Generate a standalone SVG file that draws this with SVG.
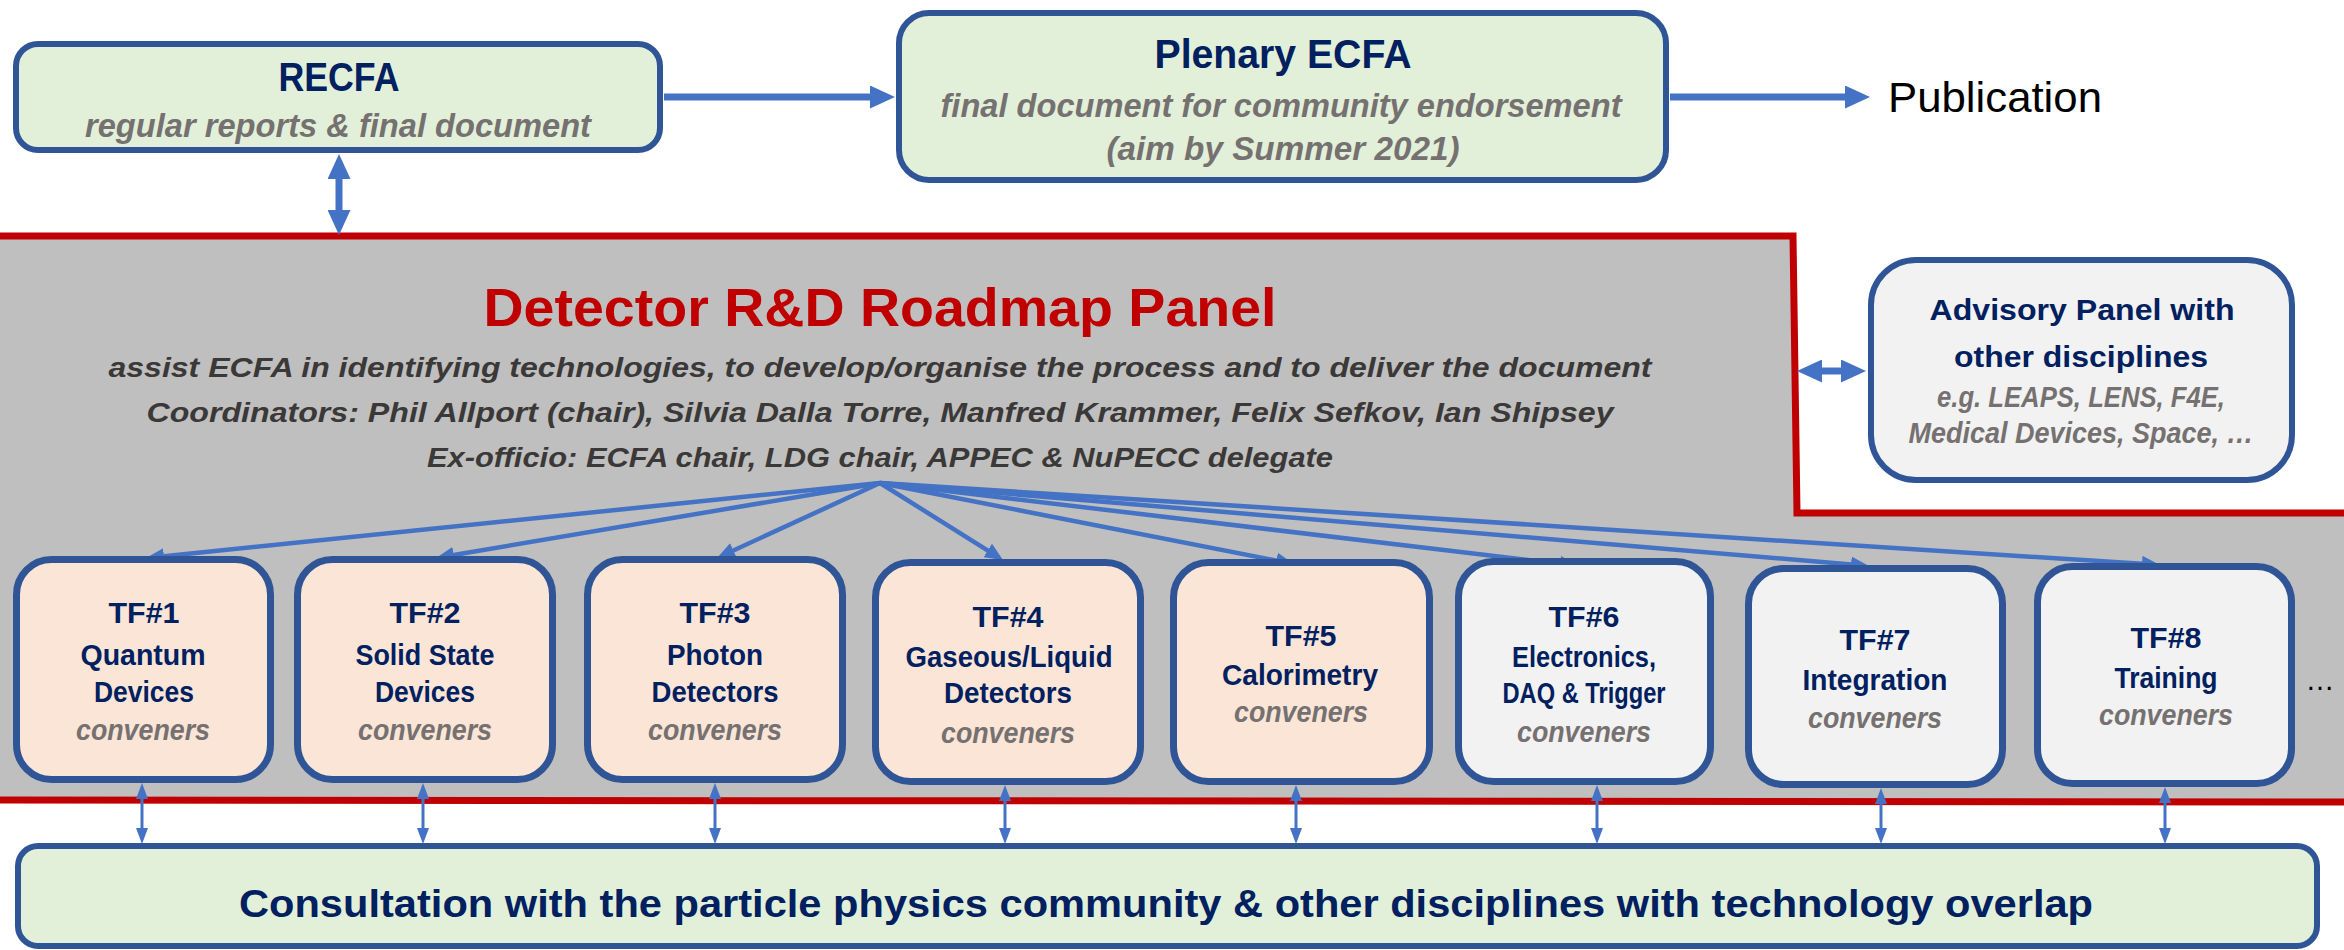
<svg xmlns="http://www.w3.org/2000/svg" width="2344" height="950" viewBox="0 0 2344 950">
<style>
text{font-family:"Liberation Sans",Arial,sans-serif;text-anchor:middle}
.t{font-weight:bold;fill:#002060}
.s{font-weight:bold;font-style:italic;fill:#767171}
.p{font-weight:bold;font-style:italic;fill:#3B3838;font-size:28px}
.box{stroke:#2F5597;stroke-width:6}
.tf{stroke:#2F5597;stroke-width:7}
.g{fill:#E2F0D9}
.o{fill:#FBE5D6}
.w{fill:#F2F2F2}
.big{stroke:#4472C4;stroke-width:7;fill:none}
.fan{stroke:#4472C4;stroke-width:4.5;fill:none}
.thin{stroke:#4472C4;stroke-width:3;fill:none}
.tfg text{font-size:29px}
</style>
<defs>
<marker id="hb" markerUnits="userSpaceOnUse" markerWidth="25" markerHeight="23" refX="10" refY="11.5" orient="auto-start-reverse" viewBox="0 0 25 23"><path d="M0,0 L25,11.5 L0,23 z" fill="#4472C4"/></marker>
<marker id="hm" markerUnits="userSpaceOnUse" markerWidth="18" markerHeight="16" refX="12" refY="8" orient="auto-start-reverse" viewBox="0 0 18 16"><path d="M0,0 L18,8 L0,16 z" fill="#4472C4"/></marker>
<marker id="hs" markerUnits="userSpaceOnUse" markerWidth="16" markerHeight="12" refX="11" refY="6" orient="auto-start-reverse" viewBox="0 0 16 12"><path d="M0,0 L16,6 L0,12 z" fill="#4472C4"/></marker>
</defs>
<rect width="2344" height="950" fill="#FFFFFF"/>
<g id="roadmap-panel">
<polygon points="-6,236 1793,236 1797,513 2352,513 2352,802 -6,800" fill="#BFBFBF" stroke="#C00000" stroke-width="7"/>
<text x="880" y="326" style="font-weight:bold;fill:#C00000;font-size:54px" textLength="793" lengthAdjust="spacingAndGlyphs">Detector R&amp;D Roadmap Panel</text>
<text class="p" x="880" y="377" textLength="1543" lengthAdjust="spacingAndGlyphs">assist ECFA in identifying technologies, to develop/organise the process and to deliver the document</text>
<text class="p" x="880" y="422" textLength="1467" lengthAdjust="spacingAndGlyphs">Coordinators: Phil Allport (chair), Silvia Dalla Torre, Manfred Krammer, Felix Sefkov, Ian Shipsey</text>
<text class="p" x="880" y="467" textLength="906" lengthAdjust="spacingAndGlyphs">Ex-officio: ECFA chair, LDG chair, APPEC &amp; NuPECC delegate</text>
</g>
<g id="recfa">
<rect class="box g" x="16" y="44" width="644" height="106" rx="22"/>
<text class="t" x="339" y="91" font-size="41" textLength="121" lengthAdjust="spacingAndGlyphs">RECFA</text>
<text class="s" x="338" y="137" font-size="34" textLength="506" lengthAdjust="spacingAndGlyphs">regular reports &amp; final document</text>
</g>
<g id="plenary">
<rect class="box g" x="899" y="13" width="767" height="167" rx="30"/>
<text class="t" x="1283" y="68" font-size="41" textLength="257" lengthAdjust="spacingAndGlyphs">Plenary ECFA</text>
<text class="s" x="1281" y="117" font-size="34" textLength="681" lengthAdjust="spacingAndGlyphs">final document for community endorsement</text>
<text class="s" x="1283" y="160" font-size="34" textLength="353" lengthAdjust="spacingAndGlyphs">(aim by Summer 2021)</text>
</g>
<g id="publication">
<text x="1888" y="112" font-size="42" fill="#000000" style="text-anchor:start" textLength="214" lengthAdjust="spacingAndGlyphs">Publication</text>
</g>
<g id="advisory">
<rect class="box w" x="1871" y="260" width="421" height="220" rx="45"/>
<text class="t" x="2082" y="320" font-size="29" textLength="305" lengthAdjust="spacingAndGlyphs">Advisory Panel with</text>
<text class="t" x="2081" y="367" font-size="29" textLength="254" lengthAdjust="spacingAndGlyphs">other disciplines</text>
<text class="s" x="2081" y="407" font-size="29" textLength="288" lengthAdjust="spacingAndGlyphs">e.g. LEAPS, LENS, F4E,</text>
<text class="s" x="2081" y="443" font-size="29" textLength="345" lengthAdjust="spacingAndGlyphs">Medical Devices, Space, …</text>
</g>
<g id="connectors">
<line class="big" x1="664" y1="97" x2="880" y2="97" marker-end="url(#hb)"/>
<line class="big" x1="1670" y1="97" x2="1855" y2="97" marker-end="url(#hb)"/>
<line class="big" x1="339" y1="169" x2="339" y2="220" marker-start="url(#hb)" marker-end="url(#hb)"/>
<line class="big" x1="1812" y1="371" x2="1851" y2="371" marker-start="url(#hb)" marker-end="url(#hb)"/>
<line class="fan" x1="880" y1="483" x2="152" y2="557.4" marker-end="url(#hm)"/>
<line class="fan" x1="880" y1="483" x2="441.9" y2="557" marker-end="url(#hm)"/>
<line class="fan" x1="880" y1="483" x2="722.5" y2="555.5" marker-end="url(#hm)"/>
<line class="fan" x1="880" y1="483" x2="997.9" y2="556.8" marker-end="url(#hm)"/>
<line class="fan" x1="880" y1="483" x2="1288.1" y2="562.9" marker-end="url(#hm)"/>
<line class="fan" x1="880" y1="483" x2="1572" y2="565.3" marker-end="url(#hm)"/>
<line class="fan" x1="880" y1="483" x2="1863" y2="565.5" marker-end="url(#hm)"/>
<line class="fan" x1="880" y1="483" x2="2154" y2="564.6" marker-end="url(#hm)"/>
<line class="thin" x1="142" y1="788" x2="142" y2="839" marker-start="url(#hs)" marker-end="url(#hs)"/>
<line class="thin" x1="423" y1="788" x2="423" y2="839" marker-start="url(#hs)" marker-end="url(#hs)"/>
<line class="thin" x1="715" y1="788" x2="715" y2="839" marker-start="url(#hs)" marker-end="url(#hs)"/>
<line class="thin" x1="1005" y1="790" x2="1005" y2="839" marker-start="url(#hs)" marker-end="url(#hs)"/>
<line class="thin" x1="1296" y1="790" x2="1296" y2="839" marker-start="url(#hs)" marker-end="url(#hs)"/>
<line class="thin" x1="1597" y1="790" x2="1597" y2="839" marker-start="url(#hs)" marker-end="url(#hs)"/>
<line class="thin" x1="1881" y1="793" x2="1881" y2="839" marker-start="url(#hs)" marker-end="url(#hs)"/>
<line class="thin" x1="2165" y1="792" x2="2165" y2="839" marker-start="url(#hs)" marker-end="url(#hs)"/>
</g>
<g id="tf1" class="tfg">
<rect class="tf o" x="16.5" y="559.5" width="254" height="220" rx="35"/>
<text class="t" x="144" y="623" textLength="71" lengthAdjust="spacingAndGlyphs">TF#1</text>
<text class="t" x="143" y="665" textLength="125" lengthAdjust="spacingAndGlyphs">Quantum</text>
<text class="t" x="144" y="702" textLength="100" lengthAdjust="spacingAndGlyphs">Devices</text>
<text class="s" x="143" y="740" textLength="134" lengthAdjust="spacingAndGlyphs">conveners</text>
</g>
<g id="tf2" class="tfg">
<rect class="tf o" x="297.5" y="559.5" width="255" height="220" rx="35"/>
<text class="t" x="425" y="623" textLength="71" lengthAdjust="spacingAndGlyphs">TF#2</text>
<text class="t" x="425" y="665" textLength="139" lengthAdjust="spacingAndGlyphs">Solid State</text>
<text class="t" x="425" y="702" textLength="100" lengthAdjust="spacingAndGlyphs">Devices</text>
<text class="s" x="425" y="740" textLength="134" lengthAdjust="spacingAndGlyphs">conveners</text>
</g>
<g id="tf3" class="tfg">
<rect class="tf o" x="587.5" y="559.5" width="255" height="220" rx="35"/>
<text class="t" x="715" y="623" textLength="71" lengthAdjust="spacingAndGlyphs">TF#3</text>
<text class="t" x="715" y="665" textLength="96" lengthAdjust="spacingAndGlyphs">Photon</text>
<text class="t" x="715" y="702" textLength="127" lengthAdjust="spacingAndGlyphs">Detectors</text>
<text class="s" x="715" y="740" textLength="134" lengthAdjust="spacingAndGlyphs">conveners</text>
</g>
<g id="tf4" class="tfg">
<rect class="tf o" x="875.5" y="562.5" width="265" height="219" rx="35"/>
<text class="t" x="1008" y="627" textLength="71" lengthAdjust="spacingAndGlyphs">TF#4</text>
<text class="t" x="1009" y="667" textLength="207" lengthAdjust="spacingAndGlyphs">Gaseous/Liquid</text>
<text class="t" x="1008" y="703" textLength="128" lengthAdjust="spacingAndGlyphs">Detectors</text>
<text class="s" x="1008" y="743" textLength="134" lengthAdjust="spacingAndGlyphs">conveners</text>
</g>
<g id="tf5" class="tfg">
<rect class="tf o" x="1173.5" y="562.5" width="256" height="219" rx="35"/>
<text class="t" x="1301" y="646" textLength="71" lengthAdjust="spacingAndGlyphs">TF#5</text>
<text class="t" x="1300" y="685" textLength="156" lengthAdjust="spacingAndGlyphs">Calorimetry</text>
<text class="s" x="1301" y="722" textLength="134" lengthAdjust="spacingAndGlyphs">conveners</text>
</g>
<g id="tf6" class="tfg">
<rect class="tf w" x="1458.5" y="561.5" width="252" height="220" rx="35"/>
<text class="t" x="1584" y="627" textLength="71" lengthAdjust="spacingAndGlyphs">TF#6</text>
<text class="t" x="1584" y="667" textLength="144" lengthAdjust="spacingAndGlyphs">Electronics,</text>
<text class="t" x="1584" y="703" textLength="163" lengthAdjust="spacingAndGlyphs">DAQ &amp; Trigger</text>
<text class="s" x="1584" y="742" textLength="134" lengthAdjust="spacingAndGlyphs">conveners</text>
</g>
<g id="tf7" class="tfg">
<rect class="tf w" x="1748.5" y="568.5" width="254" height="216" rx="35"/>
<text class="t" x="1875" y="650" textLength="71" lengthAdjust="spacingAndGlyphs">TF#7</text>
<text class="t" x="1875" y="690" textLength="145" lengthAdjust="spacingAndGlyphs">Integration</text>
<text class="s" x="1875" y="728" textLength="134" lengthAdjust="spacingAndGlyphs">conveners</text>
</g>
<g id="tf8" class="tfg">
<rect class="tf w" x="2037.5" y="566.5" width="254" height="217" rx="35"/>
<text class="t" x="2166" y="648" textLength="71" lengthAdjust="spacingAndGlyphs">TF#8</text>
<text class="t" x="2166" y="688" textLength="103" lengthAdjust="spacingAndGlyphs">Training</text>
<text class="s" x="2166" y="725" textLength="134" lengthAdjust="spacingAndGlyphs">conveners</text>
</g>
<g id="ellipsis">
<text x="2320" y="690" font-size="29" fill="#000000">…</text>
</g>
<g id="consultation">
<rect class="box g" x="18" y="846" width="2299" height="100" rx="20"/>
<text class="t" x="1166" y="917" font-size="39" textLength="1854" lengthAdjust="spacingAndGlyphs">Consultation with the particle physics community &amp; other disciplines with technology overlap</text>
</g>
</svg>
